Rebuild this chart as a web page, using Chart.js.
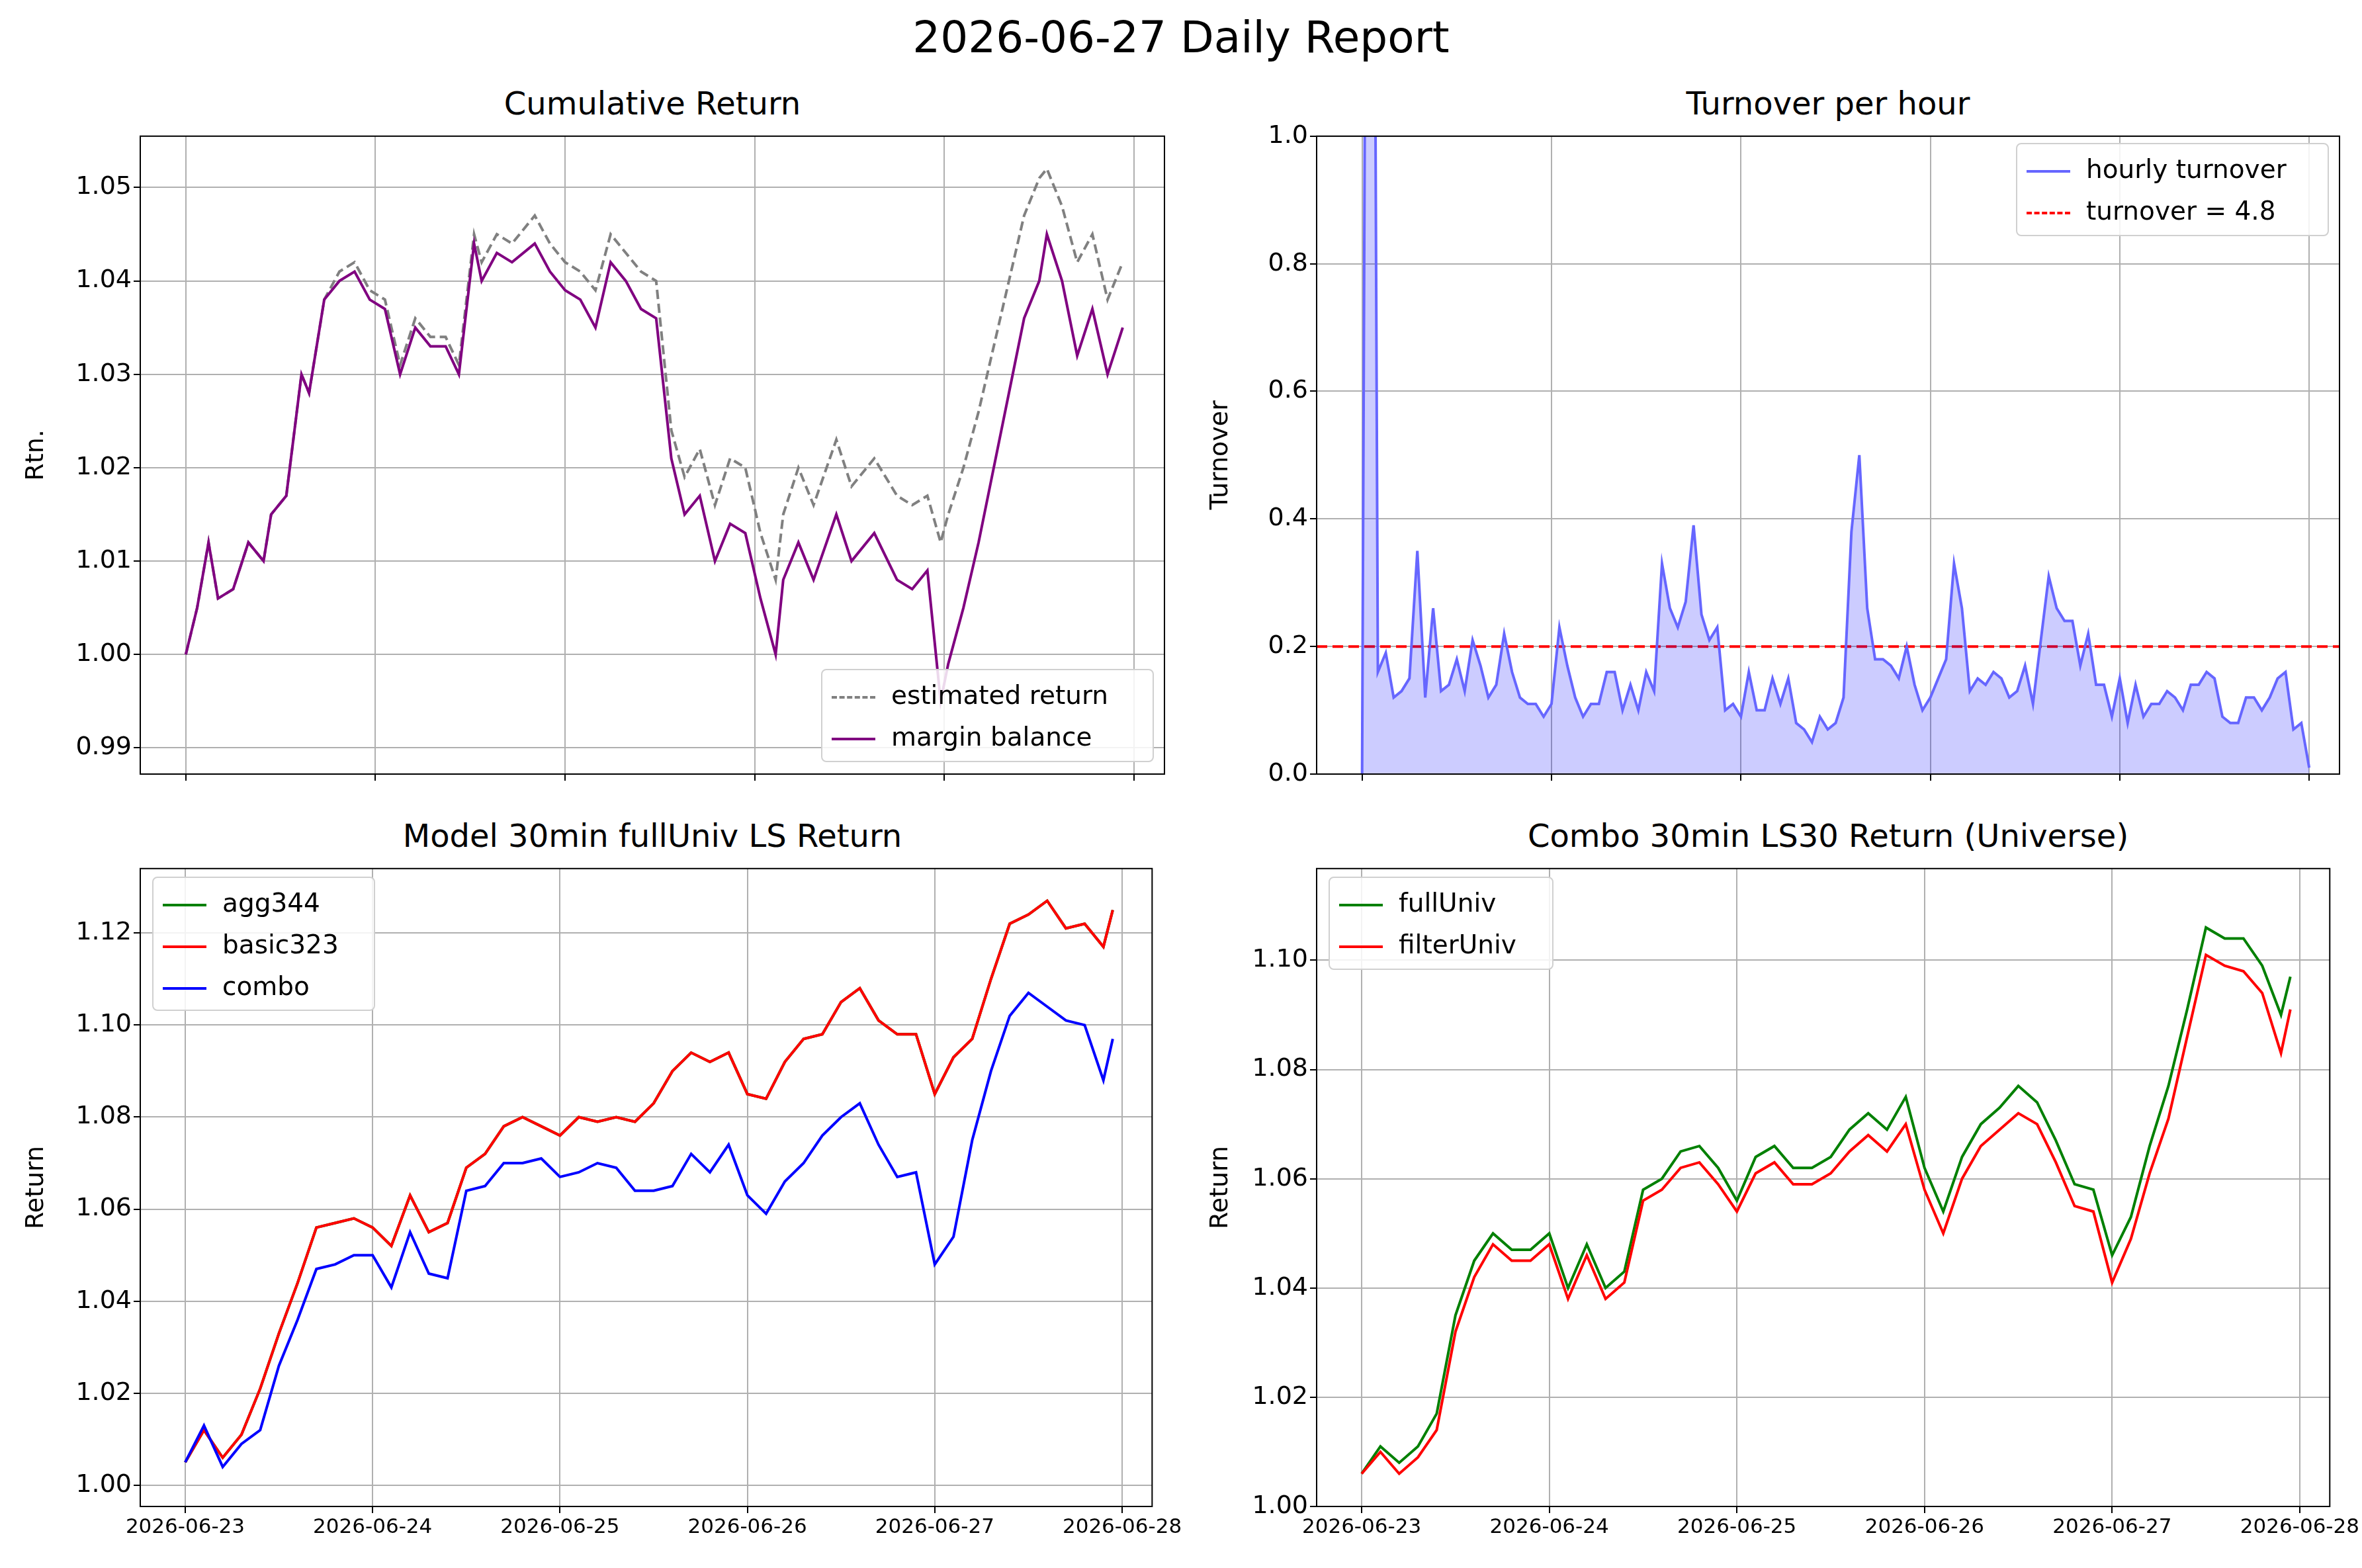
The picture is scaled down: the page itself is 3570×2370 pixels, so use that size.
<!DOCTYPE html>
<html>
<head>
<meta charset="utf-8">
<script src="https://cdn.jsdelivr.net/npm/chart.js@4/dist/chart.umd.min.js"></script>
<style>
body{margin:0;background:#fff;width:3570px;height:2370px;position:relative;overflow:hidden;font-family:"DejaVu Sans",sans-serif;}
canvas{position:absolute;}
.t{position:absolute;font-size:48px;text-align:center;}
.lg{position:absolute;border:2px solid #d0d0d0;border-radius:8px;background:rgba(255,255,255,0.85);font-size:39px;padding:6px 14px;box-sizing:border-box;}
.lg div{height:63px;line-height:63px;white-space:nowrap;}
.lg span{display:inline-block;width:66px;vertical-align:middle;margin-right:24px;border-top:4px solid;}
</style>
</head>
<body>
<div class="t" style="left:0;width:3570px;top:18px;font-size:66px;">2026-06-27 Daily Report</div>
<div class="t" style="left:212px;width:1548px;top:128px;">Cumulative Return</div>
<div class="t" style="left:1990px;width:1546px;top:128px;">Turnover per hour</div>
<div class="t" style="left:212px;width:1548px;top:1235px;">Model 30min fullUniv LS Return</div>
<div class="t" style="left:1990px;width:1546px;top:1235px;">Combo 30min LS30 Return (Universe)</div>

<canvas id="c1" width="1790" height="1020" style="left:0;top:180px"></canvas>
<canvas id="c2" width="1780" height="1020" style="left:1790px;top:180px"></canvas>
<canvas id="c3" width="1790" height="1083" style="left:0;top:1287px"></canvas>
<canvas id="c4" width="1780" height="1083" style="left:1790px;top:1287px"></canvas>

<div class="lg" style="left:1241px;top:1011px;width:503px;height:141px;">
<div><span style="border-top:4px dashed #808080"></span>estimated return</div>
<div><span style="border-color:#800080"></span>margin balance</div>
</div>
<div class="lg" style="left:3047px;top:216px;width:473px;height:141px;">
<div><span style="border-color:#6666ff"></span>hourly turnover</div>
<div><span style="border-top:4px dashed red"></span>turnover = 4.8</div>
</div>
<div class="lg" style="left:230px;top:1325px;width:337px;height:203px;">
<div><span style="border-color:green"></span>agg344</div>
<div><span style="border-color:red"></span>basic323</div>
<div><span style="border-color:blue"></span>combo</div>
</div>
<div class="lg" style="left:2008px;top:1325px;width:340px;height:141px;">
<div><span style="border-color:green"></span>fullUniv</div>
<div><span style="border-color:red"></span>filterUniv</div>
</div>

<script>
Chart.defaults.font.family = "DejaVu Sans";
Chart.defaults.font.size = 38;
Chart.defaults.color = "#000";
Chart.defaults.animation = false;
Chart.defaults.devicePixelRatio = 1;

// days since 2026-06-23
var cumX = [0,0.06,0.12,0.17,0.25,0.33,0.41,0.45,0.53,0.61,0.65,0.73,0.81,0.89,0.97,1.05,1.13,1.21,1.29,1.37,1.44,1.52,1.56,1.64,1.72,1.84,1.92,2.0,2.08,2.16,2.24,2.32,2.40,2.48,2.56,2.63,2.71,2.79,2.87,2.95,3.03,3.11,3.15,3.23,3.31,3.43,3.51,3.63,3.75,3.83,3.91,3.98,4.02,4.10,4.18,4.26,4.34,4.42,4.50,4.54,4.62,4.70,4.78,4.86,4.94];
var margin = [1.000,1.005,1.012,1.006,1.007,1.012,1.010,1.015,1.017,1.030,1.028,1.038,1.040,1.041,1.038,1.037,1.030,1.035,1.033,1.033,1.030,1.044,1.040,1.043,1.042,1.044,1.041,1.039,1.038,1.035,1.042,1.040,1.037,1.036,1.021,1.015,1.017,1.010,1.014,1.013,1.006,1.000,1.008,1.012,1.008,1.015,1.010,1.013,1.008,1.007,1.009,0.995,0.999,1.005,1.012,1.020,1.028,1.036,1.040,1.045,1.040,1.032,1.037,1.030,1.035];
var estim  = [1.000,1.005,1.012,1.006,1.007,1.012,1.010,1.015,1.017,1.030,1.028,1.038,1.041,1.042,1.039,1.038,1.031,1.036,1.034,1.034,1.031,1.045,1.042,1.045,1.044,1.047,1.044,1.042,1.041,1.039,1.045,1.043,1.041,1.040,1.024,1.019,1.022,1.016,1.021,1.020,1.013,1.008,1.015,1.020,1.016,1.023,1.018,1.021,1.017,1.016,1.017,1.012,1.015,1.020,1.026,1.033,1.040,1.047,1.051,1.052,1.048,1.042,1.045,1.038,1.042];

var turnover = [0,3.0,0.16,0.19,0.12,0.13,0.15,0.35,0.12,0.26,0.13,0.14,0.18,0.13,0.21,0.17,0.12,0.14,0.22,0.16,0.12,0.11,0.11,0.09,0.11,0.23,0.17,0.12,0.09,0.11,0.11,0.16,0.16,0.10,0.14,0.10,0.16,0.13,0.33,0.26,0.23,0.27,0.39,0.25,0.21,0.23,0.10,0.11,0.09,0.16,0.10,0.10,0.15,0.11,0.15,0.08,0.07,0.05,0.09,0.07,0.08,0.12,0.38,0.50,0.26,0.18,0.18,0.17,0.15,0.20,0.14,0.10,0.12,0.15,0.18,0.33,0.26,0.13,0.15,0.14,0.16,0.15,0.12,0.13,0.17,0.11,0.21,0.31,0.26,0.24,0.24,0.17,0.22,0.14,0.14,0.09,0.15,0.08,0.14,0.09,0.11,0.11,0.13,0.12,0.10,0.14,0.14,0.16,0.15,0.09,0.08,0.08,0.12,0.12,0.10,0.12,0.15,0.16,0.07,0.08,0.01];

var modelX = [0,0.1,0.2,0.3,0.4,0.5,0.6,0.7,0.8,0.9,1.0,1.1,1.2,1.3,1.4,1.5,1.6,1.7,1.8,1.9,2.0,2.1,2.2,2.3,2.4,2.5,2.6,2.7,2.8,2.9,3.0,3.1,3.2,3.3,3.4,3.5,3.6,3.7,3.8,3.9,4.0,4.1,4.2,4.3,4.4,4.5,4.6,4.7,4.8,4.9,4.95];
var basic = [1.005,1.012,1.006,1.011,1.021,1.033,1.044,1.056,1.057,1.058,1.056,1.052,1.063,1.055,1.057,1.069,1.072,1.078,1.080,1.078,1.076,1.080,1.079,1.080,1.079,1.083,1.090,1.094,1.092,1.094,1.085,1.084,1.092,1.097,1.098,1.105,1.108,1.101,1.098,1.098,1.085,1.093,1.097,1.110,1.122,1.124,1.127,1.121,1.122,1.117,1.125];
var agg = basic.slice();
var combo = [1.005,1.013,1.004,1.009,1.012,1.026,1.036,1.047,1.048,1.050,1.050,1.043,1.055,1.046,1.045,1.064,1.065,1.070,1.070,1.071,1.067,1.068,1.070,1.069,1.064,1.064,1.065,1.072,1.068,1.074,1.063,1.059,1.066,1.070,1.076,1.080,1.083,1.074,1.067,1.068,1.048,1.054,1.075,1.090,1.102,1.107,1.104,1.101,1.100,1.088,1.097];

var fullUniv = [1.006,1.011,1.008,1.011,1.017,1.035,1.045,1.050,1.047,1.047,1.050,1.040,1.048,1.040,1.043,1.058,1.060,1.065,1.066,1.062,1.056,1.064,1.066,1.062,1.062,1.064,1.069,1.072,1.069,1.075,1.062,1.054,1.064,1.070,1.073,1.077,1.074,1.067,1.059,1.058,1.046,1.053,1.066,1.077,1.091,1.106,1.104,1.104,1.099,1.090,1.097];
var filterUniv = [1.006,1.010,1.006,1.009,1.014,1.032,1.042,1.048,1.045,1.045,1.048,1.038,1.046,1.038,1.041,1.056,1.058,1.062,1.063,1.059,1.054,1.061,1.063,1.059,1.059,1.061,1.065,1.068,1.065,1.070,1.058,1.050,1.060,1.066,1.069,1.072,1.070,1.063,1.055,1.054,1.041,1.049,1.061,1.071,1.086,1.101,1.099,1.098,1.094,1.083,1.091];

function pts(xs, ys){ return ys.map(function(y,i){ return {x:xs[i], y:y}; }); }
function hourly(ys){ return ys.map(function(y,i){ return {x:i/24, y:y}; }); }
function dayLabel(v){ return "2026-06-" + (23+v); }

var frame = {
    id:'frame',
    afterDraw:function(c){
        var a=c.chartArea, ctx=c.ctx;
        ctx.save(); ctx.strokeStyle='#000'; ctx.lineWidth=2;
        ctx.strokeRect(a.left,a.top,a.right-a.left,a.bottom-a.top);
        ctx.restore();
    }
};

function makeOpts(o){
    return {
        responsive:false,
        layout:{padding:{top:20,right:o.right,left:28,bottom:0}},
        plugins:{legend:{display:false},tooltip:{enabled:false}},
        elements:{point:{radius:0},line:{borderWidth:4,tension:0}},
        scales:{
            x:{
                type:'linear', min:-0.24, max:5.16,
                afterBuildTicks:function(s){ s.ticks=[0,1,2,3,4,5].map(function(v){return {value:v};}); },
                afterFit:function(s){ s.height=o.xh; },
                grid:{color:'#b0b0b0',lineWidth:2,tickColor:'#000',tickLength:10},
                border:{display:false},
                ticks:{display:o.xlabels,font:{size:31},maxRotation:0,callback:dayLabel}
            },
            y:{
                min:o.ymin, max:o.ymax,
                afterBuildTicks:function(s){ s.ticks=o.yticks.map(function(v){return {value:v};}); },
                afterFit:function(s){ s.width=o.yw-28; },
                grid:{color:'#b0b0b0',lineWidth:2,tickColor:'#000',tickLength:10},
                border:{display:false},
                title:{display:true,text:o.ytitle,padding:{bottom:6}},
                ticks:{callback:function(v){return v.toFixed(o.dec);}}
            }
        }
    };
}

new Chart(document.getElementById('c1'),{
    type:'line',
    data:{datasets:[
        {label:'estimated return',data:pts(cumX,estim),borderColor:'#808080',borderDash:[14,7],order:2},
        {label:'margin balance',data:pts(cumX,margin),borderColor:'#800080',order:1}
    ]},
    options:makeOpts({right:30,xh:30,xlabels:false,ymin:0.9872,ymax:1.0555,yticks:[0.99,1.00,1.01,1.02,1.03,1.04,1.05],yw:212,ytitle:'Rtn.',dec:2}),
    plugins:[frame]
});

new Chart(document.getElementById('c2'),{
    type:'line',
    data:{datasets:[
        {label:'hourly turnover',data:hourly(turnover),borderColor:'#6666ff',backgroundColor:'rgba(0,0,255,0.2)',fill:'origin'},
        {label:'turnover = 4.8',data:[{x:-0.24,y:0.2},{x:5.16,y:0.2}],borderColor:'red',borderDash:[16,8]}
    ]},
    options:makeOpts({right:34,xh:30,xlabels:false,ymin:0,ymax:1,yticks:[0,0.2,0.4,0.6,0.8,1.0],yw:200,ytitle:'Turnover',dec:1}),
    plugins:[frame]
});

new Chart(document.getElementById('c3'),{
    type:'line',
    data:{datasets:[
        {label:'agg344',data:pts(modelX,agg),borderColor:'green',order:3},
        {label:'basic323',data:pts(modelX,basic),borderColor:'red',order:2},
        {label:'combo',data:pts(modelX,combo),borderColor:'blue',order:1}
    ]},
    options:makeOpts({right:30,xh:93,xlabels:true,ymin:0.9954,ymax:1.134,yticks:[1.00,1.02,1.04,1.06,1.08,1.10,1.12],yw:212,ytitle:'Return',dec:2}),
    plugins:[frame]
});

new Chart(document.getElementById('c4'),{
    type:'line',
    data:{datasets:[
        {label:'fullUniv',data:pts(modelX,fullUniv),borderColor:'green',order:2},
        {label:'filterUniv',data:pts(modelX,filterUniv),borderColor:'red',order:1}
    ]},
    options:makeOpts({right:34,xh:93,xlabels:true,ymin:1.0,ymax:1.1168,yticks:[1.00,1.02,1.04,1.06,1.08,1.10],yw:200,ytitle:'Return',dec:2}),
    plugins:[frame]
});
</script>
</body>
</html>
